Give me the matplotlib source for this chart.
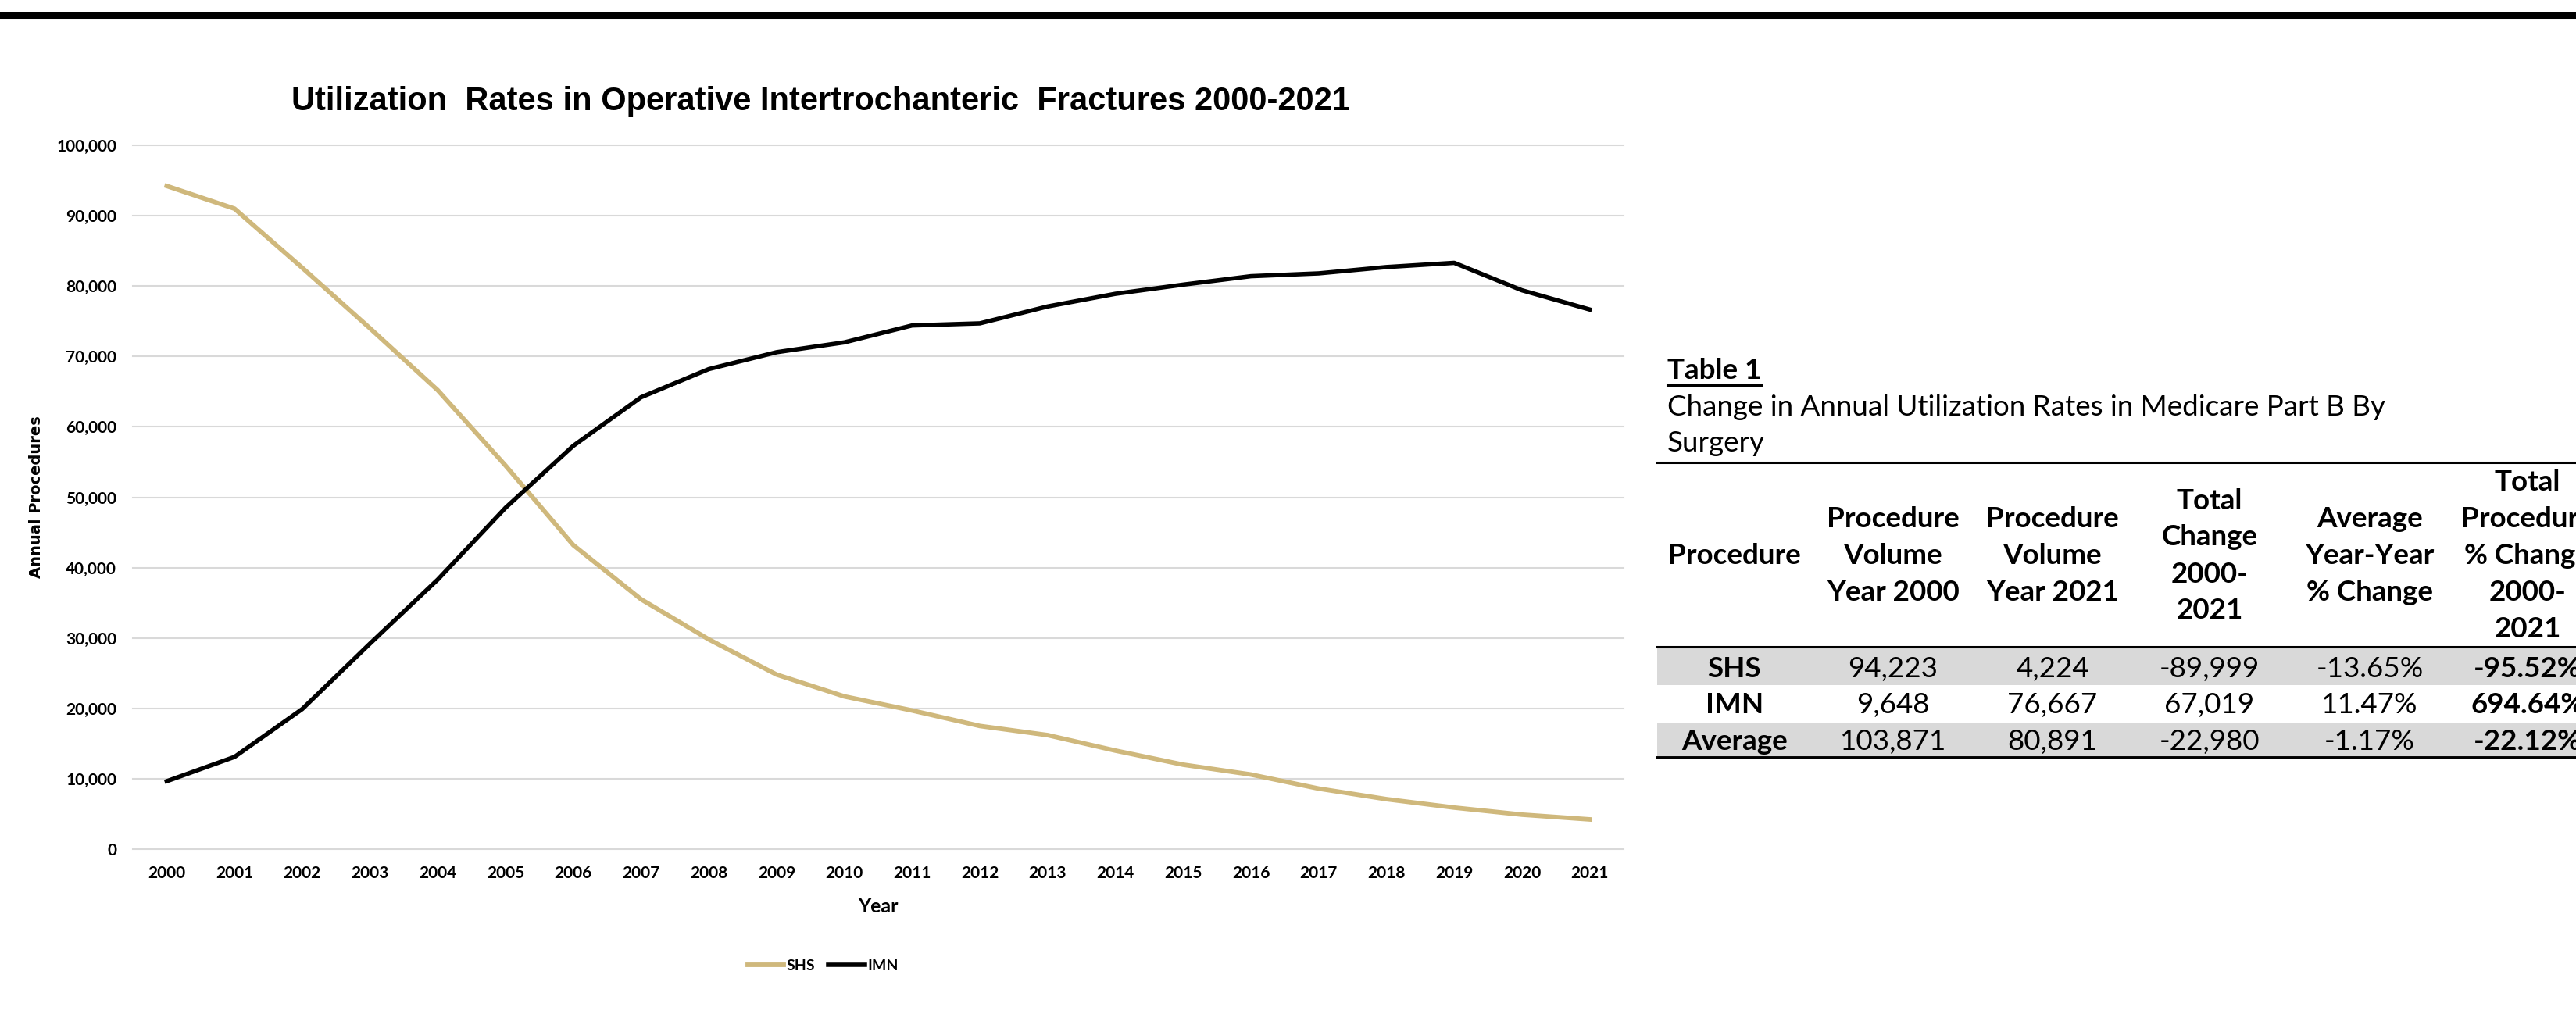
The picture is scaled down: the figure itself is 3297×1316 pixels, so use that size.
import matplotlib
matplotlib.use("Agg")
import matplotlib.pyplot as plt
from matplotlib.patches import Rectangle
from matplotlib.lines import Line2D
from matplotlib.ticker import FuncFormatter

# ---------------------------------------------------------------
# data
# ---------------------------------------------------------------
years = [str(y) for y in range(2000, 2022)]
shs = [94223, 91000, 82600, 74000, 65200, 54500, 43200, 35500, 29800, 24800, 21700,
       19700, 17500, 16200, 14000, 12000, 10600, 8600, 7100, 5900, 4900, 4224]
imn = [9648, 13100, 19900, 29200, 38300, 48500, 57300, 64200, 68200, 70600, 72000,
       74400, 74700, 77100, 78900, 80200, 81400, 81800, 82700, 83300, 79400, 76667]
y_ticks = list(range(0, 100001, 10000))

table_title = "Table 1"
table_caption = ["Change in Annual Utilization Rates in Medicare Part B By", "Surgery"]
headers = [
    ["Procedure"],
    ["Procedure", "Volume", "Year 2000"],
    ["Procedure", "Volume", "Year 2021"],
    ["Total", "Change", "2000-", "2021"],
    ["Average", "Year-Year", "% Change"],
    ["Total", "Procedure", "% Change", "2000-", "2021"],
]
procedures = ["SHS", "IMN", "Average"]
vol_2000 = [94223, 9648, 103871]
vol_2021 = [4224, 76667, 80891]
total_change = [-89999, 67019, -22980]
avg_yoy_pct = [-13.65, 11.47, -1.17]
total_pct = [-95.52, 694.64, -22.12]

GOLD = "#CFB87C"
GRID = "#D9D9D9"

plt.rcParams["font.family"] = ["Lato", "DejaVu Sans"]

W, H = 3298, 1316
fig = plt.figure(figsize=(W / 100, H / 100), dpi=100)


def fx(x):
    return x / W


def fy(y):
    return 1 - y / H


# top black rule
fig.add_artist(Line2D([0, 1], [fy(20), fy(20)], color="black", lw=5.8,
                      solid_capstyle="butt", transform=fig.transFigure))

# ---------------------------------------------------------------
# line chart
# ---------------------------------------------------------------
ax = fig.add_axes([fx(170), fy(1087), (2078 - 170) / W, (1087 - 186) / H])
x = list(range(len(years)))
ax.plot(x, shs, color=GOLD, lw=4.2, label="SHS")
ax.plot(x, imn, color="black", lw=4.0, label="IMN")

ax.set_xlim(-0.5, len(years) - 0.5)
ax.set_ylim(0, 100000)
ax.set_xticks(x)
ax.set_xticklabels(years)
ax.set_yticks(y_ticks)
ax.yaxis.set_major_formatter(FuncFormatter(lambda v, p: f"{v:,.0f}"))
ax.grid(axis="y", color=GRID, lw=1.5)
ax.set_axisbelow(True)
for gl in ax.get_ygridlines():
    gl.set_clip_on(False)
for s in ax.spines.values():
    s.set_visible(False)
ax.tick_params(length=0, pad=15, labelsize=15)
for lab in ax.get_xticklabels() + ax.get_yticklabels():
    lab.set_fontweight("bold")

ax.set_xlabel("Year", fontsize=18, fontweight="bold", labelpad=15)
ax.set_ylabel("Annual Procedures", fontsize=14, fontweight="bold",
              family="DejaVu Sans")
ax.yaxis.set_label_coords(-0.0597, 0.5)

fig.text(fx(1050), fy(130),
         "Utilization  Rates in Operative Intertrochanteric  Fractures 2000-2021",
         ha="center", va="center", fontsize=30, fontweight="bold",
         family="Liberation Sans")

handles, labels = ax.get_legend_handles_labels()
fig.legend(handles, labels, loc="center", bbox_to_anchor=(fx(1053), fy(1236)),
           ncol=2, frameon=False, handlelength=2.4, handletextpad=0.15,
           columnspacing=0.9, prop={"size": 14, "weight": "bold"})

# ---------------------------------------------------------------
# table 1
# ---------------------------------------------------------------
TFS = 26.5
left = 2121
col_x = [2220, 2423, 2627, 2828, 3033, 3235]

t = fig.text(fx(2134), fy(485), table_title, ha="left", va="baseline",
             fontsize=TFS, fontweight="bold")
fig.canvas.draw()
bb = t.get_window_extent(fig.canvas.get_renderer())
fig.add_artist(Line2D([bb.x0 / W, bb.x1 / W], [fy(493), fy(493)], color="black",
                      lw=2.2, transform=fig.transFigure))
for i, line in enumerate(table_caption):
    fig.text(fx(2134), fy(532 + 46 * i), line, ha="left", va="baseline", fontsize=TFS)

# row shading
band_rows = [(829, 877), (925, 969)]
for y0, y1 in band_rows:
    fig.add_artist(Rectangle((fx(left), fy(y1)), 1 - fx(left), (y1 - y0) / H,
                             transform=fig.transFigure, color=GRID, lw=0))

for yy, lw in [(592, 2.2), (828, 2.2), (970, 2.8)]:
    fig.add_artist(Line2D([fx(left), 1], [fy(yy), fy(yy)], color="black", lw=lw,
                          transform=fig.transFigure))

# header cells
for cx, lines in zip(col_x, headers):
    n = len(lines)
    for j, txt in enumerate(lines):
        base = 722 + (j - (n - 1) / 2) * 47
        fig.text(fx(cx), fy(base), txt, ha="center", va="baseline",
                 fontsize=TFS, fontweight="bold")

# body rows
row_base = [867, 913, 960]
for i, proc in enumerate(procedures):
    cells = [proc, f"{vol_2000[i]:,}", f"{vol_2021[i]:,}", f"{total_change[i]:,}",
             f"{avg_yoy_pct[i]:.2f}%", f"{total_pct[i]:.2f}%"]
    for k, (cx, txt) in enumerate(zip(col_x, cells)):
        bold = k == 0 or k == len(cells) - 1
        fig.text(fx(cx), fy(row_base[i]), txt, ha="center", va="baseline",
                 fontsize=TFS, fontweight="bold" if bold else "normal")

fig.savefig("out.png", dpi=100)
